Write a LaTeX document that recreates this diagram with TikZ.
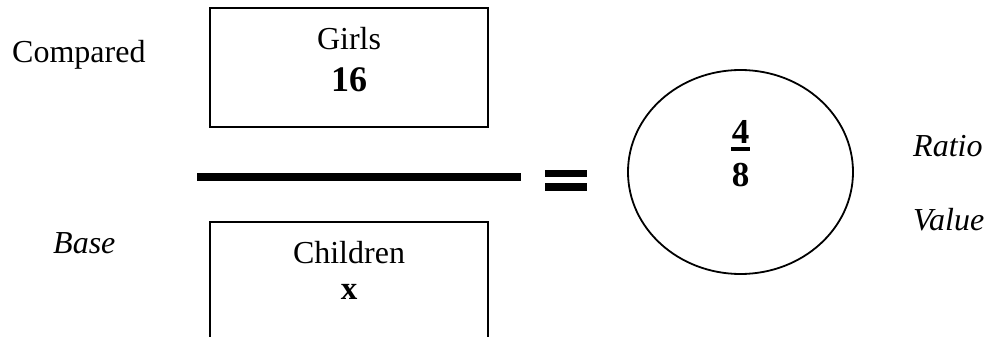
\documentclass[tikz,border=0pt]{standalone}
\usepackage{fontspec}
\setmainfont{Liberation Serif}
\usetikzlibrary{shapes.geometric}
\begin{document}
\begin{tikzpicture}[x=1pt,y=-1pt,
  txt/.style={inner sep=0pt, anchor=base, font=\fontsize{32}{38}\selectfont},
  itxt/.style={txt, font=\fontsize{32}{38}\selectfont\itshape},
  num/.style={inner sep=0pt, anchor=base, font=\fontsize{36}{42}\selectfont\bfseries},
  boxed/.style={draw, line width=2pt, rectangle, inner sep=0pt},
  bar/.style={fill=black, draw=none}
]
\useasboundingbox (0,0) rectangle (989,337);
\clip (0,0) rectangle (989,337);
% boxes
\node[boxed, minimum width=278pt, minimum height=119pt] (top) at (349,67.5) {};
\node[boxed, minimum width=278pt, minimum height=180pt] (bottom) at (349,312) {};
% texts in boxes
\node[txt] (girls) at (349,50) {Girls};
\node[num] (sixteen) at (349,92) {16};
\node[txt] (children) at (349,263) {Children};
\node[txt, font=\fontsize{33}{38}\selectfont\bfseries] (xval) at (349,299) {x};
% side labels
\node[txt, anchor=base west] (compared) at (12,63) {Compared};
\node[itxt, anchor=base west] (base) at (53,253) {Base};
\node[itxt, anchor=base west] (ratio) at (913,157) {Ratio};
\node[itxt, anchor=base west] (value) at (913,230) {Value};
% fraction line
\fill[bar] (197,172.7) rectangle (521,180.7);
% equals sign
\fill[bar] (545,170) rectangle (587,177.3);
\fill[bar] (545,183.3) rectangle (587,190.7);
% ellipse
\node[draw, ellipse, line width=1.8pt, minimum width=225pt, minimum height=204pt, inner sep=0pt] (circ) at (740.5,172) {};
\node[num, font=\fontsize{35}{40}\selectfont\bfseries] (four) at (740.5,143) {4};
\fill[bar] (731,147) rectangle (750,151);
\node[num, font=\fontsize{35}{40}\selectfont\bfseries] (eight) at (740.5,186) {8};
\end{tikzpicture}
\end{document}
